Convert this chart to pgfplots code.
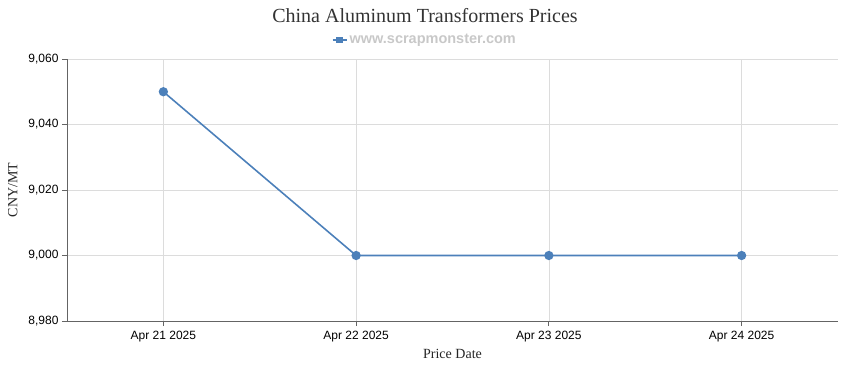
\documentclass[border=0pt]{standalone}
\usepackage{fontspec}
\setmainfont{Liberation Serif}
\setsansfont{Liberation Sans}
\usepackage{pgfplots}
\pgfplotsset{compat=1.18}
\definecolor{series}{RGB}{76,128,186}
\definecolor{gridc}{RGB}{220,220,220}
\definecolor{axc}{RGB}{100,100,100}
\definecolor{legc}{RGB}{200,200,200}
\begin{document}
\begin{tikzpicture}
\path[use as bounding box] (-67bp,-49bp) rectangle (783bp,321bp);
\begin{axis}[
  name=main,
  at={(0,0)}, anchor=south west,
  scale only axis, width=771bp, height=262bp,
  xmin=-0.5, xmax=3.5, ymin=8980, ymax=9060,
  xtick={0,1,2,3},
  xticklabels={Apr 21 2025,Apr 22 2025,Apr 23 2025,Apr 24 2025},
  ytick={8980,9000,9020,9040,9060},
  axis x line*=bottom, axis y line*=left,
  axis line style={axc, line width=0.8pt},
  x axis line style={-}, y axis line style={-},
  grid=major, major grid style={gridc, line width=0.6pt},
  tick style={axc, line width=0.8pt},
  tick align=outside, major tick length=5bp,
  ticklabel style={font=\sffamily\fontsize{12bp}{14bp}\selectfont, text=black},
  /pgf/number format/.cd, 1000 sep={,}, assume math mode=true, /pgfplots/.cd,
  xticklabel style={yshift=-2bp},
  xlabel={Price Date}, ylabel={CNY/MT},
  label style={font=\fontsize{14bp}{16bp}\selectfont, text=black!85},
  xlabel style={yshift=0bp},
  ylabel style={yshift=4bp},
  legend style={at={(0.464,1)}, anchor=center, yshift=19bp, draw=none, fill=none,
    font=\sffamily\bfseries\fontsize{14.5bp}{16bp}\selectfont, text=legc},
  legend image code/.code={\draw[series, line width=2pt] (0bp,0bp) -- (14bp,0bp);
    \fill[series] (4bp,-2.5bp) rectangle (10bp,2.5bp);},
]
\addplot[series, line width=1.6pt, mark=*, mark size=3.8bp, mark options={fill=series, draw=series}]
  coordinates {(0,9050) (1,9000) (2,9000) (3,9000)};
\addlegendentry{www.scrapmonster.com}
\end{axis}
\node[font=\fontsize{20bp}{22bp}\selectfont, text=black!80] at (358bp,305bp) {China Aluminum Transformers Prices};
\end{tikzpicture}
\end{document}
